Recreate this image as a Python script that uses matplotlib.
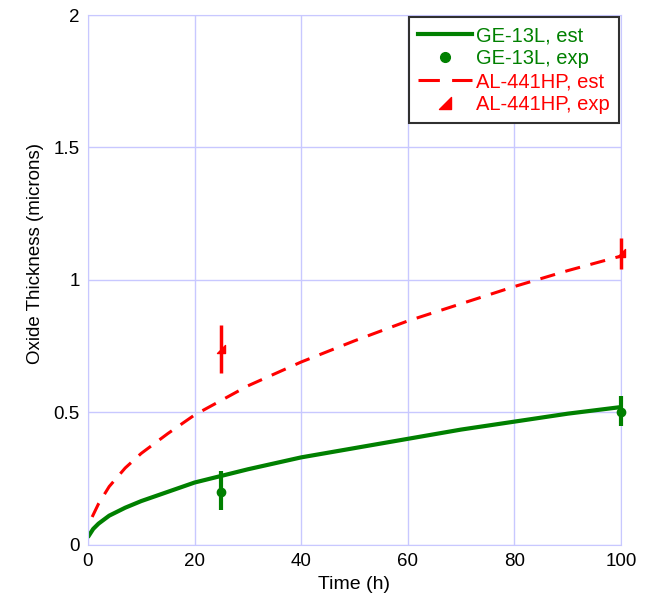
import numpy as np
import matplotlib
matplotlib.use("Agg")
import matplotlib.pyplot as plt
from matplotlib.path import Path
from matplotlib.lines import Line2D

plt.rcParams['font.family'] = ['Liberation Sans', 'DejaVu Sans']

# estimated oxide growth curves
t_ge = [0.2, 1, 2, 4, 7, 10, 15, 20, 25, 30, 40, 50, 60, 70, 80, 90, 100]
ge_est = [0.035, 0.06, 0.08, 0.11, 0.14, 0.165, 0.20, 0.235, 0.26, 0.285,
          0.33, 0.365, 0.40, 0.435, 0.465, 0.495, 0.52]
t_al = [0.8, 2, 4, 7, 10, 15, 20, 25, 30, 40, 50, 60, 70, 80, 90, 100]
al_est = [0.105, 0.155, 0.22, 0.29, 0.345, 0.42, 0.49, 0.545, 0.60,
          0.69, 0.77, 0.845, 0.91, 0.975, 1.035, 1.09]

# measured values with error bars
t_exp = [25, 100]
ge_exp = [0.20, 0.50]
ge_err = [[0.07, 0.05], [0.08, 0.06]]
al_exp = [0.74, 1.10]
al_err = [[0.09, 0.06], [0.09, 0.06]]

green = '#008000'
red = '#ff0000'
grid_col = '#c8c8ff'

tri = Path([(-1, -1), (1, -1), (1, 1), (-1, -1)],
           [Path.MOVETO, Path.LINETO, Path.LINETO, Path.CLOSEPOLY])

fig = plt.figure(figsize=(6.51, 6.0), dpi=100)
ax = fig.add_axes([0.135, 0.092, 0.819, 0.883])

h1, = ax.plot(t_ge, ge_est, color=green, lw=3)
eb1 = ax.errorbar(t_exp, ge_exp, yerr=ge_err, fmt='o', color=green, ms=6,
                  elinewidth=3, capsize=0, zorder=4)
h3, = ax.plot(t_al, al_est, color=red, lw=2.2, dashes=(5, 3.5))
eb2 = ax.errorbar(t_exp, al_exp, yerr=al_err, fmt='none', color=red,
                  elinewidth=2.5, capsize=0, zorder=4)
ax.plot(t_exp, al_exp, ls='none', marker=tri, ms=6, color=red,
        clip_on=False, zorder=4)
for eb in (eb1, eb2):
    for art in eb.lines[2]:
        art.set_clip_on(False)
    if eb.lines[0] is not None:
        eb.lines[0].set_clip_on(False)

ax.set_xlim(0, 100)
ax.set_ylim(0, 2)
ax.set_xticks([0, 20, 40, 60, 80, 100])
ax.set_yticks([0, 0.5, 1, 1.5, 2])
ax.set_yticklabels(['0', '0.5', '1', '1.5', '2'])
ax.grid(True, color=grid_col, lw=1)
ax.set_axisbelow(True)
for s in ax.spines.values():
    s.set_color(grid_col)
ax.tick_params(length=0, labelsize=13.5, pad=6)
ax.set_xlabel('Time (h)', fontsize=14)
ax.set_ylabel('Oxide Thickness (microns)', fontsize=13.5)
ax.yaxis.set_label_coords(-0.083, 0.55)

handles = [
    h1,
    Line2D([], [], ls='none', marker='o', ms=7, color=green),
    Line2D([], [], color=red, lw=2.2, dashes=(7, 4)),
    Line2D([], [], ls='none', marker=tri, ms=8, color=red),
]
labels = ['GE-13L, est', 'GE-13L, exp', 'AL-441HP, est', 'AL-441HP, exp']
leg = ax.legend(handles, labels, loc='upper right', fontsize=14.5,
                fancybox=False, edgecolor='#303030', framealpha=1,
                borderaxespad=0.1, handlelength=2.7, labelspacing=0.2,
                borderpad=0.45, handletextpad=0.2)
leg.get_frame().set_linewidth(1.5)
for txt, c in zip(leg.get_texts(), [green, green, red, red]):
    txt.set_color(c)

fig.savefig('out.png', dpi=100)
